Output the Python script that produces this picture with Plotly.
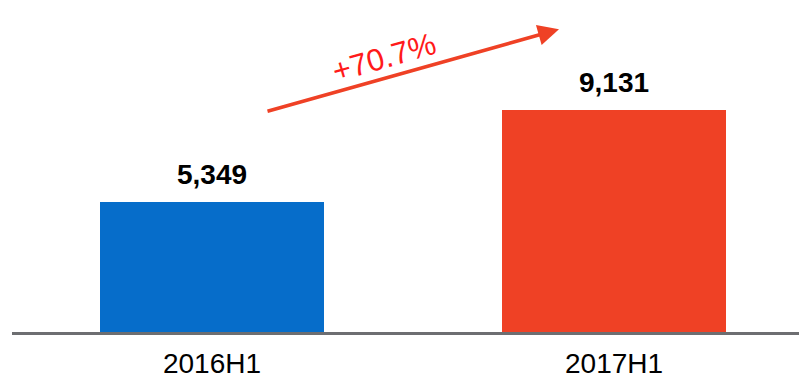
import plotly.graph_objects as go

categories = ["2016H1", "2017H1"]
values = [5349, 9131]
value_labels = ["5,349", "9,131"]
bar_colors = ["#066DCA", "#EF4125"]
growth_label = "+70.7%"

FONT = "Liberation Sans, Arial, sans-serif"

fig = go.Figure()
fig.add_trace(go.Bar(
    x=categories, y=values, marker=dict(color=bar_colors, line=dict(width=0)),
    width=0.557, hoverinfo="skip",
))

annotations = []
for c, v, lab in zip(categories, values, value_labels):
    annotations.append(dict(
        x=c, y=v, xref="x", yref="y", text="<b>%s</b>" % lab, showarrow=False,
        yanchor="bottom", yshift=10, font=dict(family=FONT, size=28, color="#000000"),
    ))

# growth arrow
annotations.append(dict(
    x=(559 - 12) / 787, y=(332 - 29.3) / 332, xref="paper", yref="paper",
    ax=-293, ay=82.4, axref="pixel", ayref="pixel", text="",
    showarrow=True, arrowhead=2, arrowsize=1.2, arrowwidth=3.5, arrowcolor="#EF4125",
    standoff=0,
))
annotations.append(dict(
    x=(384 - 12) / 787, y=(332 - 57) / 332, xref="paper", yref="paper",
    xanchor="center", yanchor="middle",
    text=growth_label, showarrow=False, textangle=-16,
    font=dict(family=FONT, size=31, color="#FF1A1A"),
))

fig.update_layout(
    width=799, height=379,
    margin=dict(l=12, r=0, t=0, b=47),
    paper_bgcolor="white", plot_bgcolor="white",
    showlegend=False,
    bargap=0,
    xaxis=dict(
        type="category", range=[-0.4975, 1.46],
        showline=True, linecolor="#6D6E71", linewidth=2.5,
        showgrid=False, zeroline=False, ticks="",
        ticklabelstandoff=5,
        tickfont=dict(family=FONT, size=28, color="#000000"),
    ),
    yaxis=dict(range=[0, 13685], visible=False, showgrid=False, zeroline=False),
    annotations=annotations,
)

fig.write_html("out.html")
